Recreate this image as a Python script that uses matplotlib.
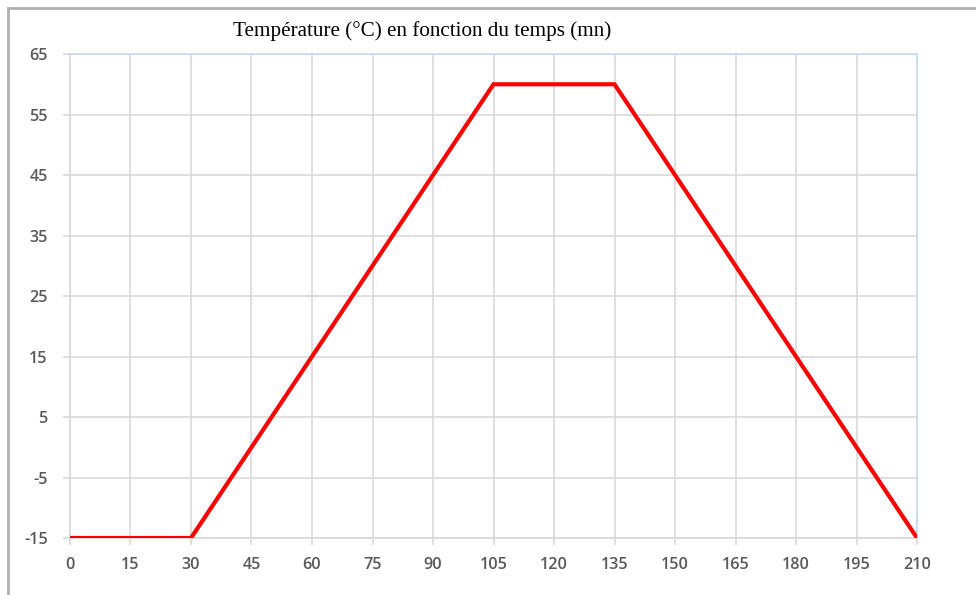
import numpy as np
import matplotlib.pyplot as plt
from matplotlib.lines import Line2D

plt.rcParams["axes.unicode_minus"] = False

# temps (mn) et temperature (degC)
temps = [0, 30, 105, 135, 210]
temperature = [-15, -15, 60, 60, -15]

x_ticks = list(range(0, 211, 15))
y_ticks = list(range(-15, 66, 10))

titre = "Température (°C) en fonction du temps (mn)"

grille = "#d9d9d9"

fig = plt.figure(figsize=(9.76, 5.95), dpi=100)
ax = fig.add_axes([0.0717, 0.0958, 0.8679, 0.8134])

ax.plot(temps, temperature, color="#ff0000", linewidth=3, solid_joinstyle="miter", zorder=3)

ax.set_xlim(0, 210)
ax.set_ylim(-15, 65)
ax.set_xticks(x_ticks)
ax.set_yticks(y_ticks)
ax.grid(True, color=grille, linewidth=1.2)
ax.tick_params(axis="both", length=5, width=1.2, color=grille,
               labelsize=11.6, labelcolor="#595959")
ax.tick_params(axis="x", pad=9)
ax.tick_params(axis="y", pad=11)
for lab in ax.get_xticklabels() + ax.get_yticklabels():
    lab.set_family("Open Sans")
    lab.set_fontweight("semibold")

ax.spines["left"].set_color(grille)
ax.spines["bottom"].set_color(grille)
ax.spines["top"].set_color("#c6d9f1")
ax.spines["right"].set_color("#c6d9f1")
for s in ax.spines.values():
    s.set_linewidth(1.2)

fig.text(0.432, 0.948, titre, ha="center", va="center",
         family="Liberation Serif", fontsize=15.2, color="#000000")

# cadre gris en haut et a gauche
fig.add_artist(Line2D([8/976, 8/976], [0, 1 - 8/595], color="#b0b0b0", linewidth=2))
fig.add_artist(Line2D([8/976, 1], [1 - 8/595, 1 - 8/595], color="#b0b0b0", linewidth=2))

fig.savefig("out.png", dpi=100)
